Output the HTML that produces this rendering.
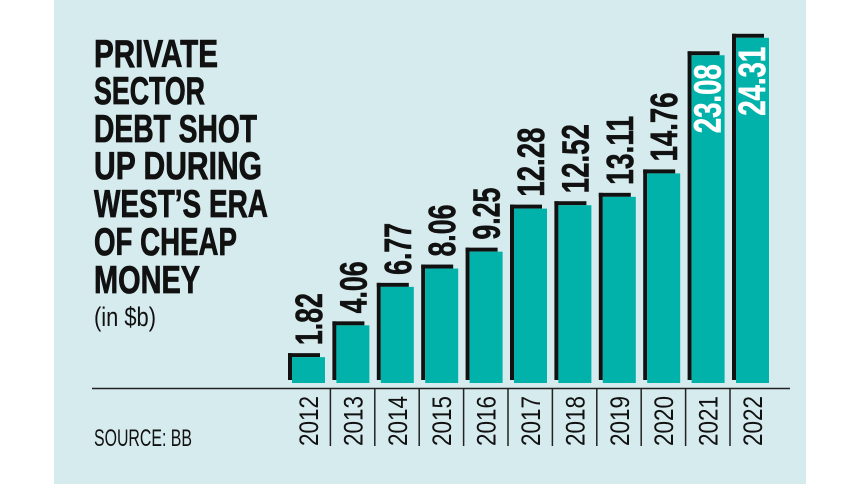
<!DOCTYPE html>
<html><head><meta charset="utf-8"><style>
html,body{margin:0;padding:0;background:#fff;}
svg{display:block;}
</style></head><body>
<svg width="860" height="484" viewBox="0 0 860 484" xmlns="http://www.w3.org/2000/svg" font-family="Liberation Sans, sans-serif">
<rect x="54" y="0" width="752" height="484" fill="#d6ebee"/>
<g font-weight="bold" font-size="39" fill="#111" stroke="#111" stroke-width="0.8">
<text x="94" y="67" textLength="124" lengthAdjust="spacingAndGlyphs">PRIVATE</text>
<text x="94" y="104" textLength="111" lengthAdjust="spacingAndGlyphs">SECTOR</text>
<text x="94" y="142" textLength="163" lengthAdjust="spacingAndGlyphs">DEBT SHOT</text>
<text x="94" y="179" textLength="168" lengthAdjust="spacingAndGlyphs">UP DURING</text>
<text x="94" y="217" textLength="174" lengthAdjust="spacingAndGlyphs">WEST’S ERA</text>
<text x="94" y="255" textLength="143" lengthAdjust="spacingAndGlyphs">OF CHEAP</text>
<text x="94" y="293" textLength="106" lengthAdjust="spacingAndGlyphs">MONEY</text>
</g>
<text x="94" y="326" font-size="27" fill="#111" textLength="62" lengthAdjust="spacingAndGlyphs">(in $b)</text>
<text x="94" y="446" font-size="24" fill="#111" textLength="98" lengthAdjust="spacingAndGlyphs">SOURCE: BB</text>
<line x1="92" y1="388.5" x2="790" y2="388.5" stroke="#222" stroke-width="1.5"/>
<g id="bars"></g>
</svg>
<script>
(function(){
var vals=[1.82,4.06,6.77,8.06,9.25,12.28,12.52,13.11,14.76,23.08,24.31];
var years=[2012,2013,2014,2015,2016,2017,2018,2019,2020,2021,2022];
var g=document.getElementById('bars'),s='';
for(var i=0;i<11;i++){
 var x=292+i*44.4, ty=383-vals[i]*14.2, h=383-ty;
 s+='<rect x="'+(x-4)+'" y="'+(ty-4)+'" width="4" height="'+(h+1)+'" fill="#111"/>';
 s+='<rect x="'+(x-4)+'" y="'+(ty-4)+'" width="32" height="4" fill="#111"/>';
 s+='<rect x="'+x+'" y="'+ty+'" width="33" height="'+h+'" fill="#00b2a9"/>';
 var t=vals[i].toFixed(2), L=t.length>4?69:52;
 if(i<9){
  var yb=ty-12;
  s+='<text transform="translate('+(x+30)+','+yb+') rotate(-90)" font-weight="bold" font-size="38" fill="#111" stroke="#111" stroke-width="0.6" textLength="'+L+'" lengthAdjust="spacingAndGlyphs">'+t+'</text>';
 } else {
  var ye=ty+9;
  s+='<text transform="translate('+(x+29)+','+ye+') rotate(-90)" text-anchor="end" font-weight="bold" font-size="38" fill="#fff" stroke="#fff" stroke-width="0.6" textLength="'+L+'" lengthAdjust="spacingAndGlyphs">'+t+'</text>';
 }
 s+='<text transform="translate('+(x+26)+',446) rotate(-90)" font-size="27" fill="#111" textLength="50" lengthAdjust="spacingAndGlyphs">'+years[i]+'</text>';
 if(i>0) s+='<line x1="'+(x-6)+'" y1="388" x2="'+(x-6)+'" y2="446" stroke="#222" stroke-width="1.5"/>';
}
g.innerHTML=s;
})();
</script>
</body></html>
